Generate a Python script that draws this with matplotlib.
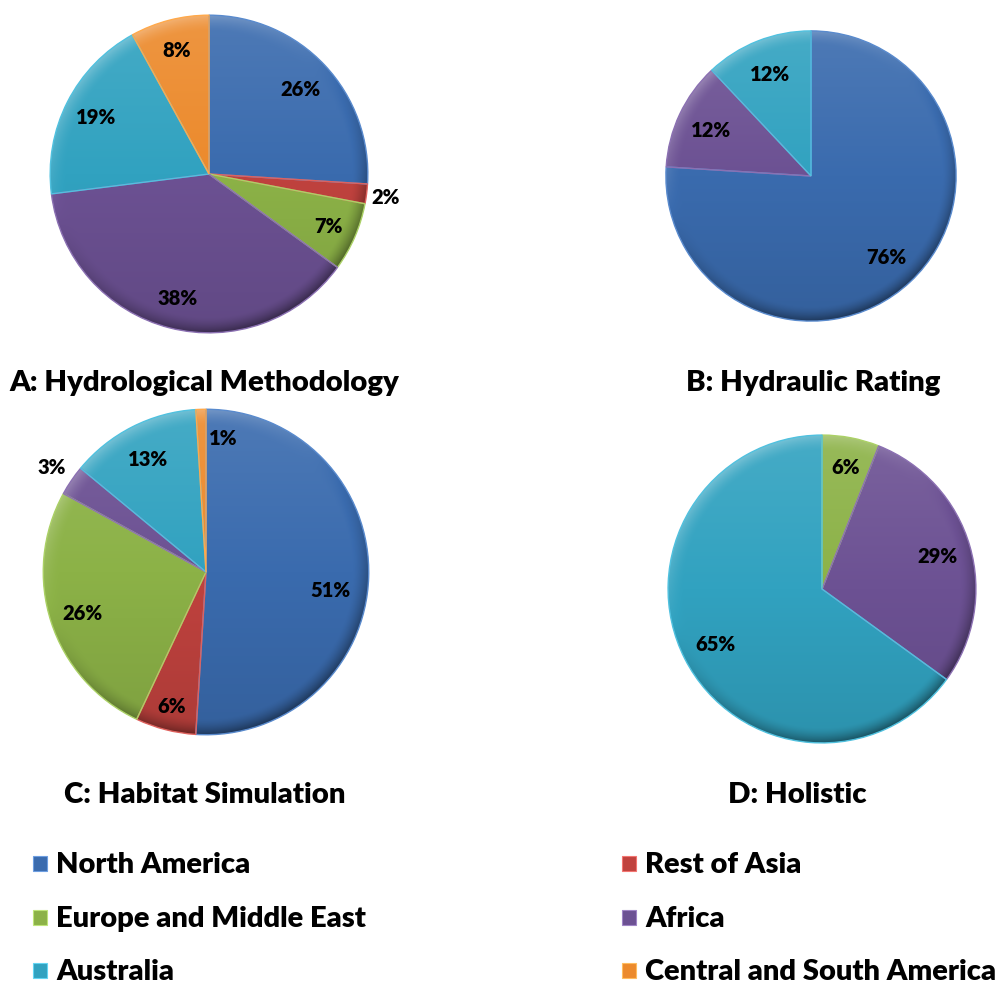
import numpy as np
import matplotlib.pyplot as plt
from matplotlib.colors import to_rgb
from matplotlib.patches import Rectangle

plt.rcParams['font.family'] = ['Lato', 'DejaVu Sans']
plt.rcParams['font.weight'] = 'heavy'

regions = ['North America', 'Rest of Asia', 'Europe and Middle East',
           'Africa', 'Australia', 'Central and South America']
colors = ['#3a6bae', '#c0423e', '#8cb247', '#6c5193', '#31a2c0', '#ec8a2c']

# share of studies (%) per region for each methodology
hydrological = [26, 2, 7, 38, 19, 8]
hydraulic = [76, 0, 0, 12, 12, 0]
habitat = [51, 6, 26, 3, 13, 1]
holistic = [0, 0, 6, 29, 65, 0]

titles = ['A: Hydrological Methodology', 'B: Hydraulic Rating',
          'C: Habitat Simulation', 'D: Holistic']
series = [hydrological, hydraulic, habitat, holistic]

W, H = 1001, 987
fig = plt.figure(figsize=(W / 100, H / 100), dpi=100)

# pie centre (x, y from top) and radius, in pixels
layout = [(209, 175, 162), (811, 177, 148), (206, 573, 166), (822, 590, 157)]
title_pos = [(204, 383), (813, 383), (205, 795), (797, 795)]
# label distance as fraction of radius, plus small angle nudges (degrees)
label_dist = [[0.79, 1.12, 0.82, 0.80, 0.80, 0.81],
              [0.76] * 6,
              [0.77, 0.85, 0.80, 1.15, 0.78, 0.83],
              [0.81, 0.80, 0.81, 0.78, 0.78, 0.80]]
label_nudge = [[0] * 6, [0] * 6, [-6, 0, 0, 0, 0, -9], [0] * 6]

# shading map: lighter at the top, bevelled rim
yy, xx = np.mgrid[1:-1:500j, -1:1:500j]
rr = np.hypot(xx, yy)
shade = 0.10 * yy
rim = np.clip((rr - 0.90) / 0.10, 0, 1) ** 1.5
light = (-0.5 * xx + 0.8 * yy) / np.maximum(rr, 1e-6)
shade = shade + 0.35 * rim * light - 0.08 * rim


def shaded(color):
    base = np.array(to_rgb(color))[None, None, :]
    s = shade[..., None]
    return np.clip(np.where(s > 0, base + (1 - base) * s, base * (1 + s)), 0, 1)


for k, vals in enumerate(series):
    cx, cy, r = layout[k]
    ax = fig.add_axes([(cx - r) / W, 1 - (cy + r) / H, 2 * r / W, 2 * r / H])
    wedges, _ = ax.pie(vals, colors=colors, startangle=90, counterclock=False,
                       radius=1, wedgeprops=dict(linewidth=0))
    for i, w in enumerate(wedges):
        if vals[i] == 0:
            continue
        edge = tuple(min(1, c + 0.12) for c in to_rgb(colors[i]))
        im = ax.imshow(shaded(colors[i]), extent=[-1, 1, -1, 1], zorder=2,
                       interpolation='bilinear')
        im.set_clip_path(w)
        w.set_edgecolor(edge)
        w.set_linewidth(1.0)
        w.set_zorder(3)
        w.set_facecolor('none')
        ang = np.deg2rad((w.theta1 + w.theta2) / 2 + label_nudge[k][i])
        d = label_dist[k][i]
        ax.text(d * np.cos(ang), d * np.sin(ang), f'{vals[i]}%', ha='center',
                va='center', fontsize=14.5, fontweight='heavy', zorder=5)
    ax.set_xlim(-1.02, 1.02)
    ax.set_ylim(-1.02, 1.02)
    ax.axis('off')
    tx, ty = title_pos[k]
    fig.text(tx / W, 1 - ty / H, titles[k], ha='center', va='center',
             fontsize=21.2, fontweight='heavy')

# legend in two columns
for i, name in enumerate(regions):
    col, row = i % 2, i // 2
    x0 = [33, 622][col]
    y0 = [865, 919, 972][row]
    fig.patches.append(Rectangle((x0 / W, 1 - (y0 + 7) / H), 14 / W, 15 / H,
                                 transform=fig.transFigure, facecolor=colors[i],
                                 edgecolor=tuple(min(1, c + 0.2) for c in to_rgb(colors[i])),
                                 linewidth=0.8))
    fig.text((x0 + 23) / W, 1 - y0 / H, name, ha='left', va='center',
             fontsize=21, fontweight='heavy')

fig.savefig('out.png', dpi=100)
